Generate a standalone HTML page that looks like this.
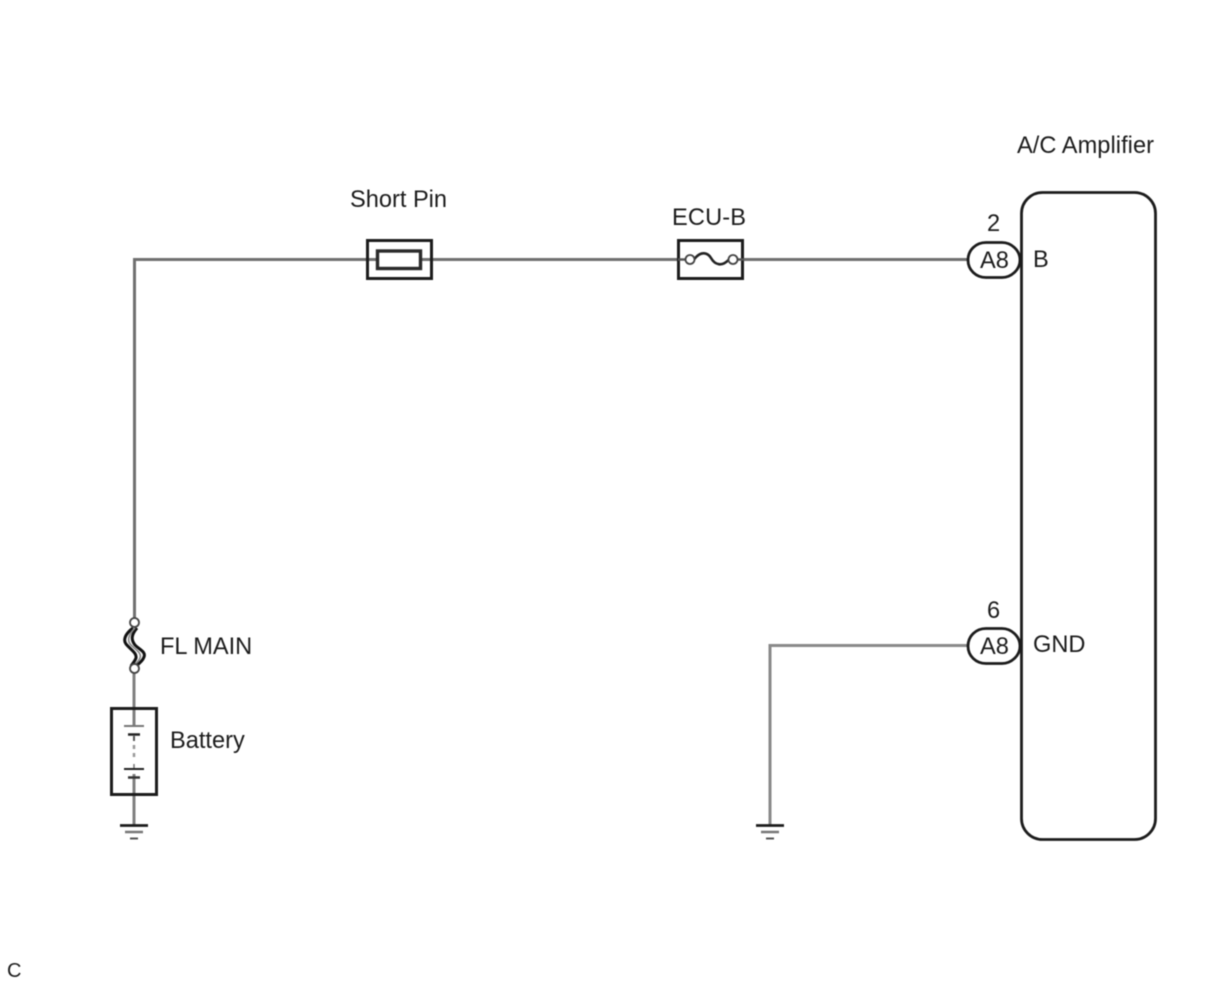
<!DOCTYPE html>
<html>
<head>
<meta charset="utf-8">
<style>
html,body{margin:0;padding:0;background:#fff;width:1208px;height:984px;overflow:hidden}
svg{display:block;filter:blur(0.45px)}
text{font-family:"Liberation Sans",sans-serif;font-size:23.6px;fill:#1c1c1c}
</style>
</head>
<body>
<svg width="1208" height="984" viewBox="0 0 1208 984" xmlns="http://www.w3.org/2000/svg">
<g fill="none" stroke-linecap="butt">
<!-- wires -->
<path d="M134.500 620V259.500H968" stroke="#707070" stroke-width="3"/>
<path d="M134 668V727M134 774V826" stroke="#808080" stroke-width="3"/>
<path d="M968 645.500H770V826" stroke="#8a8a8a" stroke-width="3"/>

<!-- short pin -->
<rect x="367.500" y="240.500" width="64" height="38" stroke="#1c1c1c" stroke-width="3"/>
<rect x="377.500" y="251" width="43" height="17.500" fill="#fff" stroke="#2a2a2a" stroke-width="3.400"/>

<!-- ECU-B -->
<rect x="678.500" y="240.500" width="64" height="38" fill="#fff" stroke="#1c1c1c" stroke-width="3"/>
<path d="M678 259.500H686M738 259.500H744" stroke="#555" stroke-width="2.500"/>
<path d="M694 259.500C701 250 708 253 711 258C715 265 722 267 729 259.500" stroke="#222" stroke-width="2.600"/>
<circle cx="690" cy="259.500" r="4.500" fill="#fff" stroke="#444" stroke-width="1.800"/>
<circle cx="733" cy="259.500" r="4.500" fill="#fff" stroke="#444" stroke-width="1.800"/>

<!-- FL MAIN -->
<path d="M133 628C125 634 123 640 126 644C131 650 137 653 136 658C135 661 133 663 131 666" stroke="#111" stroke-width="3"/>
<path d="M137 628C131 635 131 640 135 645C140 650 146 652 144 657C143 660 140 663 136 666" stroke="#111" stroke-width="3"/>
<path d="M135 628C128 635 127 641 131 645C136 650 142 653 140 658C139 661 136 663 133.500 666" stroke="#888" stroke-width="1.600"/>
<circle cx="134.500" cy="622.500" r="4.500" fill="#fff" stroke="#444" stroke-width="1.800"/>
<circle cx="134.500" cy="668.500" r="4.500" fill="#fff" stroke="#444" stroke-width="1.800"/>

<!-- battery -->
<rect x="111.500" y="708.500" width="45" height="86" stroke="#1c1c1c" stroke-width="3"/>
<path d="M124 726H144" stroke="#777" stroke-width="2"/>
<path d="M128 734.500H140" stroke="#222" stroke-width="2.500"/>
<path d="M134 736V741" stroke="#555" stroke-width="2"/>
<path d="M134 745V761" stroke="#999" stroke-width="2.500" stroke-dasharray="4 4"/>
<path d="M124 769H144" stroke="#222" stroke-width="2"/>
<path d="M128 777.500H140" stroke="#333" stroke-width="2.500"/>
<path d="M134 764V768" stroke="#777" stroke-width="1.500"/>

<!-- grounds -->
<path d="M120 825.500H148" stroke="#1c1c1c" stroke-width="2.800"/>
<path d="M125 832H143" stroke="#777" stroke-width="2.400"/>
<path d="M130 838.500H138" stroke="#555" stroke-width="2"/>
<path d="M756 825.500H784" stroke="#1c1c1c" stroke-width="2.800"/>
<path d="M761 832H779" stroke="#777" stroke-width="2.400"/>
<path d="M766 838.500H774" stroke="#555" stroke-width="2"/>

<!-- amplifier -->
<rect x="1021.500" y="192.500" width="134" height="647" rx="21" ry="21" fill="#fff" stroke="#1c1c1c" stroke-width="2.800"/>

<!-- connectors -->
<path d="M986 242.500H1002C1011 242.500 1020 250 1020 260C1020 270 1011 277.500 1002 277.500H986C976 277.500 968 270 968 260C968 250 976 242.500 986 242.500Z" fill="#fff" stroke="#1c1c1c" stroke-width="2.800"/>
<path d="M986 628.500H1002C1011 628.500 1020 636 1020 646C1020 656 1011 663.500 1002 663.500H986C976 663.500 968 656 968 646C968 636 976 628.500 986 628.500Z" fill="#fff" stroke="#1c1c1c" stroke-width="2.800"/>
</g>
<text x="1017" y="153" textLength="137">A/C Amplifier</text>
<text x="350" y="207">Short Pin</text>
<text x="672" y="225" textLength="74">ECU-B</text>
<text x="987" y="231">2</text>
<text x="980" y="268">A8</text>
<text x="1033" y="267">B</text>
<text x="987" y="618">6</text>
<text x="980" y="654">A8</text>
<text x="1033" y="652">GND</text>
<text x="160" y="654">FL MAIN</text>
<text x="170" y="748">Battery</text>
<text x="7" y="977" style="font-size:20px">C</text>
</svg>
</body>
</html>
